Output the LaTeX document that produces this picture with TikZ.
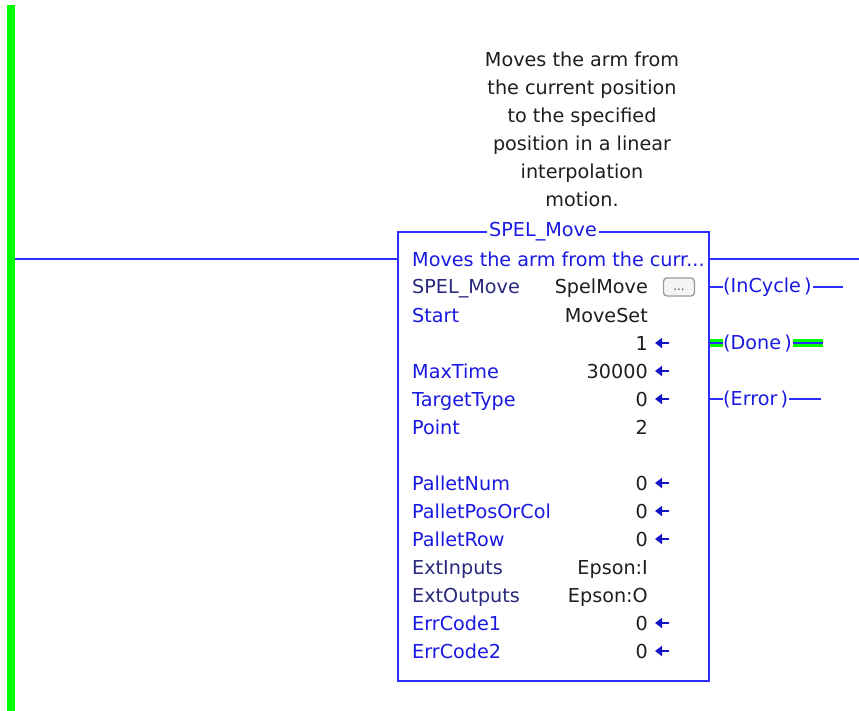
\documentclass[tikz,border=0pt]{standalone}
\usepackage{fontspec}
\setmainfont{DejaVu Sans}
\usetikzlibrary{arrows.meta}
\definecolor{wire}{RGB}{45,45,255}
\definecolor{lbl}{RGB}{25,25,225}
\definecolor{navy}{RGB}{40,40,125}
\definecolor{valc}{RGB}{30,30,30}
\definecolor{railc}{RGB}{0,255,0}
\definecolor{arrc}{RGB}{20,20,200}
\begin{document}
\begin{tikzpicture}[x=1pt,y=-1pt,
  every node/.style={font=\fontsize{19.2}{28}\selectfont, inner sep=0pt},
  wireline/.style={draw=wire, line width=2pt},
  lab/.style={anchor=base west, text=lbl},
  labn/.style={anchor=base west, text=navy},
  valn/.style={anchor=base east, text=valc},
  inarrow/.style={draw=arrc, line width=2.6pt, -{Triangle[length=7pt,width=10pt]}},
  coil/.style={anchor=west, text=lbl},
  railline/.style={draw=railc, line width=8pt},
  donebar/.style={draw=railc, line width=8pt}]
\useasboundingbox (0,0) rectangle (859,711);

% power rail
\coordinate (railtop) at (11,5);
\coordinate (railbot) at (11,711);
\draw[railline] (railtop) -- (railbot);
\coordinate (railpt) at (15,259);

% description above block
\node[anchor=north, align=center, text=valc] (desc) at (582,51.5)
  {Moves the arm from\\the current position\\to the specified\\position in a linear\\interpolation\\motion.};

% function block
\node[wireline, fill=white, minimum width=311pt, minimum height=449pt] (fb) at (553.5,456.5) {};
\node[fill=white, text=lbl, inner xsep=2pt, inner ysep=1pt] (title) at (543,232) {SPEL\_Move};

% rung wires
\coordinate (rungend) at (859,259);
\draw[wireline] (railpt) -- (railpt -| fb.west);
\draw[wireline] (rungend -| fb.east) -- (rungend);

% rows
\node[lab] (d0) at (412,266) {Moves the arm from the curr...};
\node[labn] (l1) at (412,294) {SPEL\_Move};
\node[valn] (v1) at (648,294) {SpelMove};
\node[draw=gray!80, line width=1.3pt, fill=gray!8, rounded corners=3.5pt, minimum width=31pt, minimum height=18pt] (btn) at (679,287) {};
\node[text=gray!60!black, font=\fontsize{12}{12}\selectfont] (btndots) at (679,290) {...};
\node[lab] (l2) at (412,322) {Start};
\node[valn] (v2) at (648,322) {MoveSet};
\node[valn] (v3) at (648,350) {1};
\node[lab] (l4) at (412,378) {MaxTime};
\node[valn] (v4) at (648,378) {30000};
\node[lab] (l5) at (412,406) {TargetType};
\node[valn] (v5) at (648,406) {0};
\node[lab] (l6) at (412,434) {Point};
\node[valn] (v6) at (648,434) {2};
\node[lab] (l7) at (412,490) {PalletNum};
\node[valn] (v7) at (648,490) {0};
\node[lab] (l8) at (412,518) {PalletPosOrCol};
\node[valn] (v8) at (648,518) {0};
\node[lab] (l9) at (412,546) {PalletRow};
\node[valn] (v9) at (648,546) {0};
\node[labn] (l10) at (412,574) {ExtInputs};
\node[valn] (v10) at (648,574) {Epson:I};
\node[labn] (l11) at (412,602) {ExtOutputs};
\node[valn] (v11) at (648,602) {Epson:O};
\node[lab] (l12) at (412,630) {ErrCode1};
\node[valn] (v12) at (648,630) {0};
\node[lab] (l13) at (412,658) {ErrCode2};
\node[valn] (v13) at (648,658) {0};

% input arrows
\foreach \r/\y in {a3/343,a4/371,a5/399,a7/483,a8/511,a9/539,a12/623,a13/651}{
  \coordinate (\r s) at (669,\y);
  \coordinate (\r e) at (655,\y);
  \draw[inarrow] (\r s) -- (\r e);
}

% output coils
\node[coil] (incycle) at (723,287) {(InCycle\,)};
\node[coil] (done) at (723,343) {(Done\,)};
\node[coil] (error) at (723,399) {(Error\,)};
\coordinate (incycleend) at (843,287);
\coordinate (doneend) at (823,343);
\coordinate (errorend) at (821,399);

\draw[wireline] (incycle.west -| fb.east) -- (incycle.west);
\draw[wireline] ([xshift=1pt]incycle.east) -- (incycleend);
\draw[donebar] (done.west -| fb.east) -- (done.west);
\draw[donebar] ([xshift=1pt]done.east) -- (doneend);
\draw[wireline] (done.west -| fb.east) -- (done.west);
\draw[wireline] ([xshift=1pt]done.east) -- (doneend);
\draw[wireline] (error.west -| fb.east) -- (error.west);
\draw[wireline] ([xshift=1pt]error.east) -- (errorend);
\end{tikzpicture}
\end{document}
